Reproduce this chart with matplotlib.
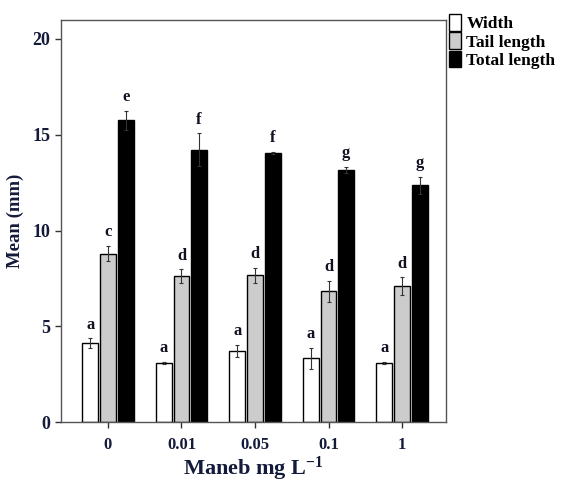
import numpy as np
import matplotlib.pyplot as plt

plt.rcParams['font.family'] = ['Liberation Serif', 'DejaVu Serif']
plt.rcParams['font.weight'] = 'bold'
plt.rcParams['mathtext.default'] = 'regular'

concentrations = ['0', '0.01', '0.05', '0.1', '1']
width_mean = [4.12, 3.1, 3.72, 3.33, 3.08]
width_err = [0.25, 0.06, 0.3, 0.55, 0.05]
tail_mean = [8.8, 7.62, 7.67, 6.82, 7.1]
tail_err = [0.4, 0.35, 0.4, 0.55, 0.45]
total_mean = [15.75, 14.22, 14.07, 13.18, 12.37]
total_err = [0.5, 0.85, 0.05, 0.15, 0.45]
width_letters = ['a', 'a', 'a', 'a', 'a']
tail_letters = ['c', 'd', 'd', 'd', 'd']
total_letters = ['e', 'f', 'f', 'g', 'g']

fig = plt.figure(figsize=(5.64, 4.83), dpi=100)
ax = fig.add_axes([0.108, 0.126, 0.683, 0.833])

x = np.arange(len(concentrations))
step = 0.24
bw = 0.215
series = [
    (width_mean, width_err, width_letters, 'white', 'Width', -step),
    (tail_mean, tail_err, tail_letters, '#cccccc', 'Tail length', 0),
    (total_mean, total_err, total_letters, 'black', 'Total length', step),
]
handles = []
for vals, errs, letters, col, lab, off in series:
    b = ax.bar(x + off, vals, bw, color=col, edgecolor='black', linewidth=1.0,
               yerr=errs, error_kw=dict(ecolor='#333333', elinewidth=0.8, capsize=1.5, capthick=0.8),
               label=lab)
    handles.append(b)
    for xi, v, e, t in zip(x + off, vals, errs, letters):
        ax.text(xi, v + e + 0.3, t, ha='center', va='bottom', fontsize=12,
                fontweight='bold', color='#111122')

ax.set_xlim(-0.64, 4.6)
ax.set_ylim(0, 21)
ax.set_yticks([0, 5, 10, 15, 20])
ax.set_xticks(x)
ax.set_xticklabels(concentrations)
ax.tick_params(axis='both', direction='out', length=4, width=1, colors='#333333',
               labelcolor='#141a3a')
ax.tick_params(axis='y', labelsize=13)
ax.tick_params(axis='x', labelsize=12, pad=7)
for lbl in ax.get_xticklabels() + ax.get_yticklabels():
    lbl.set_fontweight('bold')
for s in ax.spines.values():
    s.set_color('#555555')
    s.set_linewidth(1.0)

ax.set_ylabel('Mean (mm)', fontsize=13.5, fontweight='bold', color='#141a3a', labelpad=6)
ax.set_xlabel('Maneb mg L$^{-1}$', fontsize=16, fontweight='bold', color='#141a3a', labelpad=1)

fig.legend(handles=handles, loc='upper left', bbox_to_anchor=(0.79, 0.978),
           frameon=False, handlelength=0.7, handleheight=1.1,
           handletextpad=0.3, labelspacing=0.0, borderaxespad=0.0, borderpad=0.2,
           prop=dict(weight='bold', size=12.5))

fig.savefig('out.png', dpi=100)
